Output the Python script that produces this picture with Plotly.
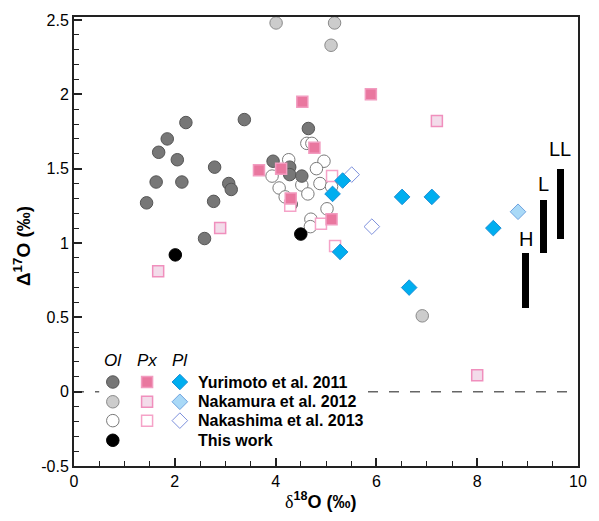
import plotly.graph_objects as go

# ---------------- data ----------------
# Olivine (Ol)
ol_yurimoto_x = [2.22, 1.85, 1.68, 2.05, 2.79, 1.63, 2.14, 3.07, 3.12, 1.44, 2.77, 2.59,
                 3.38, 4.65, 3.95, 4.28, 4.28, 4.52, 4.31]
ol_yurimoto_y = [1.81, 1.70, 1.61, 1.56, 1.51, 1.41, 1.41, 1.40, 1.36, 1.27, 1.28, 1.03,
                 1.83, 1.77, 1.55, 1.51, 1.46, 1.45, 1.26]
ol_nakamura_x = [4.01, 5.17, 5.10, 6.91]
ol_nakamura_y = [2.48, 2.48, 2.33, 0.51]
ol_nakashima_x = [4.62, 4.72, 4.26, 4.96, 4.81, 3.93, 4.88, 4.52, 4.07, 4.64, 5.11, 4.19,
                  5.02, 4.70, 4.69]
ol_nakashima_y = [1.67, 1.67, 1.56, 1.55, 1.50, 1.45, 1.40, 1.39, 1.37, 1.33, 1.38, 1.31,
                  1.23, 1.16, 1.11]
ol_thiswork_x = [2.01, 4.50]
ol_thiswork_y = [0.92, 1.06]

# Pyroxene (Px)
px_yurimoto_x = [4.53, 4.77, 3.67, 4.11, 4.30, 5.11, 5.89]
px_yurimoto_y = [1.95, 1.64, 1.49, 1.50, 1.30, 1.16, 2.00]
px_nakamura_x = [2.90, 1.67, 7.20, 8.00]
px_nakamura_y = [1.10, 0.81, 1.82, 0.11]
px_nakashima_x = [5.12, 4.29, 4.90, 5.18]
px_nakashima_y = [1.45, 1.25, 1.13, 0.98]

# Plagioclase (Pl)
pl_yurimoto_x = [5.33, 5.13, 6.51, 7.10, 8.32, 5.28, 6.65]
pl_yurimoto_y = [1.42, 1.33, 1.31, 1.31, 1.10, 0.94, 0.70]
pl_nakamura_x = [8.81]
pl_nakamura_y = [1.21]
pl_nakashima_x = [5.51, 5.91]
pl_nakashima_y = [1.46, 1.11]

# Chondrite ranges (H, L, LL)
range_labels = ["H", "L", "LL"]
range_x = [8.96, 9.31, 9.65]
range_lo = [0.56, 0.93, 1.03]
range_hi = [0.93, 1.29, 1.50]

# Axes ticks
x_tickvals = [0, 2, 4, 6, 8, 10]
x_ticktext = ["0", "2", "4", "6", "8", "10"]
y_tickvals = [-0.5, 0, 0.5, 1, 1.5, 2, 2.5]
y_ticktext = ["-0.5", "0", "0.5", "1", "1.5", "2", "2.5"]

legend_labels = ["Yurimoto et al. 2011", "Nakamura et al. 2012", "Nakashima et al. 2013", "This work"]
legend_headers = ["Ol", "Px", "Pl"]

# ---------------- styles ----------------
FONT = "Liberation Sans, Arial, sans-serif"
C_OL1, C_OL1L = "#777777", "#555555"
C_OL2, C_OL2L = "#cccccc", "#8a8a8a"
C_OL3L = "#7a7a7a"
C_PX1, C_PX1L = "#e9779f", "#f29cc0"
C_PX2, C_PX2L = "#f3dcea", "#f08fbd"
C_PX3L = "#f5a3c8"
C_PL1, C_PL1L = "#00aeef", "#1c8fd6"
C_PL2, C_PL2L = "#a9d9f7", "#6fa3df"
C_PL3L = "#7d90dc"

SZ_C, SZ_S, SZ_D = 12.5, 11, 12

styles = {
    "ol1": dict(symbol="circle", size=SZ_C, color=C_OL1, line=dict(color=C_OL1L, width=1)),
    "ol2": dict(symbol="circle", size=SZ_C, color=C_OL2, line=dict(color=C_OL2L, width=1)),
    "ol3": dict(symbol="circle", size=SZ_C, color="white", line=dict(color=C_OL3L, width=1)),
    "ol4": dict(symbol="circle", size=SZ_C, color="black", line=dict(color="black", width=1)),
    "px1": dict(symbol="square", size=SZ_S, color=C_PX1, line=dict(color=C_PX1L, width=1.5)),
    "px2": dict(symbol="square", size=SZ_S, color=C_PX2, line=dict(color=C_PX2L, width=1.5)),
    "px3": dict(symbol="square", size=SZ_S, color="white", line=dict(color=C_PX3L, width=1.5)),
    "pl1": dict(symbol="diamond", size=SZ_D, color=C_PL1, line=dict(color=C_PL1L, width=1)),
    "pl2": dict(symbol="diamond", size=SZ_D, color=C_PL2, line=dict(color=C_PL2L, width=1)),
    "pl3": dict(symbol="diamond", size=SZ_D, color="white", line=dict(color=C_PL3L, width=1)),
}

fig = go.Figure()

# H / L / LL bars
fig.add_trace(go.Bar(x=range_x, y=[h - l for h, l in zip(range_hi, range_lo)], base=range_lo,
                     width=0.14, marker=dict(color="black", line=dict(width=0)),
                     showlegend=False, hoverinfo="skip"))

def pts(x, y, key):
    fig.add_trace(go.Scatter(x=x, y=y, mode="markers", marker=styles[key], showlegend=False))

pts(ol_nakashima_x, ol_nakashima_y, "ol3")
pts(ol_nakamura_x, ol_nakamura_y, "ol2")
pts(ol_yurimoto_x, ol_yurimoto_y, "ol1")
pts(px_nakashima_x, px_nakashima_y, "px3")
pts(px_nakamura_x, px_nakamura_y, "px2")
pts(px_yurimoto_x, px_yurimoto_y, "px1")
pts(ol_thiswork_x, ol_thiswork_y, "ol4")
pts(pl_nakashima_x, pl_nakashima_y, "pl3")
pts(pl_nakamura_x, pl_nakamura_y, "pl2")
pts(pl_yurimoto_x, pl_yurimoto_y, "pl1")

# ---------------- custom legend (data coords) ----------------
LEG_COL_X = [0.77, 1.45, 2.10]
LEG_TEXT_X = 2.42
LEG_ROW_Y = [0.065, -0.068, -0.195, -0.327]
LEG_HEAD_Y = 0.21
col_keys = [["ol1", "ol2", "ol3", "ol4"], ["px1", "px2", "px3"], ["pl1", "pl2", "pl3"]]
for ci, keys in enumerate(col_keys):
    for ri, k in enumerate(keys):
        pts([LEG_COL_X[ci]], [LEG_ROW_Y[ri]], k)

annotations = []
for ci, h in enumerate(legend_headers):
    annotations.append(dict(x=LEG_COL_X[ci], y=LEG_HEAD_Y, xref="x", yref="y", text="<i>%s</i>" % h,
                            showarrow=False, font=dict(family=FONT, size=17, color="black")))
for ri, t in enumerate(legend_labels):
    annotations.append(dict(x=LEG_TEXT_X, y=LEG_ROW_Y[ri], xref="x", yref="y", text="<b>%s</b>" % t,
                            xanchor="left", yanchor="middle", showarrow=False,
                            font=dict(family=FONT, size=16, color="black")))

# H L LL labels
label_y = [1.03, 1.40, 1.63]
for lab, x, y in zip(range_labels, range_x, label_y):
    annotations.append(dict(x=x, y=y, xref="x", yref="y", text=lab, showarrow=False,
                            font=dict(family=FONT, size=20, color="black")))

# Axis titles
annotations.append(dict(x=0.49, y=-0.077, xref="paper", yref="paper", showarrow=False,
                        xanchor="center", yanchor="middle",
                        text="<span style='font-family:Liberation Serif, Times New Roman, serif'>δ</span><b><sup>18</sup>O (‰)</b>",
                        font=dict(family=FONT, size=18, color="black")))
annotations.append(dict(x=-0.103, y=0.49, xref="paper", yref="paper", showarrow=False, textangle=-90,
                        xanchor="center", yanchor="middle",
                        text="<b>Δ<sup>17</sup>O (‰)</b>",
                        font=dict(family=FONT, size=19, color="black")))

shapes = [
    dict(type="line", xref="paper", yref="y", x0=0, x1=1, y0=0, y1=0, layer="below",
         line=dict(color="#666666", width=1.5, dash="10px,11px")),
    dict(type="rect", xref="x", yref="y", x0=0.5, x1=5.7, y0=-0.42, y1=0.30, layer="below",
         fillcolor="white", line=dict(width=0)),
]

fig.update_layout(
    width=599, height=521,
    margin=dict(l=74, r=19, t=12, b=55),
    paper_bgcolor="white", plot_bgcolor="white",
    showlegend=False,
    annotations=annotations, shapes=shapes,
    font=dict(family=FONT, size=15, color="black"),
    bargap=0,
)
fig.update_xaxes(range=[0, 10], tickmode="array", tickvals=x_tickvals, ticktext=x_ticktext,
                 ticks="inside", ticklen=8, tickwidth=1.5, tickcolor="#222",
                 minor=dict(tickmode="linear", tick0=0, dtick=0.5, ticks="inside", ticklen=5,
                            tickwidth=1.2, tickcolor="#222"),
                 showline=True, linecolor="#222", linewidth=2, mirror=True,
                 showgrid=False, zeroline=False, tickfont=dict(family=FONT, size=16, color="black"))
fig.update_yaxes(range=[-0.5, 2.52], tickmode="array", tickvals=y_tickvals, ticktext=y_ticktext,
                 ticks="inside", ticklen=8, tickwidth=1.5, tickcolor="#222",
                 minor=dict(tickmode="linear", tick0=0, dtick=0.1, ticks="inside", ticklen=5,
                            tickwidth=1.2, tickcolor="#222"),
                 showline=True, linecolor="#222", linewidth=2, mirror=True,
                 showgrid=False, zeroline=False, tickfont=dict(family=FONT, size=16, color="black"))

fig.write_html("out.html")
